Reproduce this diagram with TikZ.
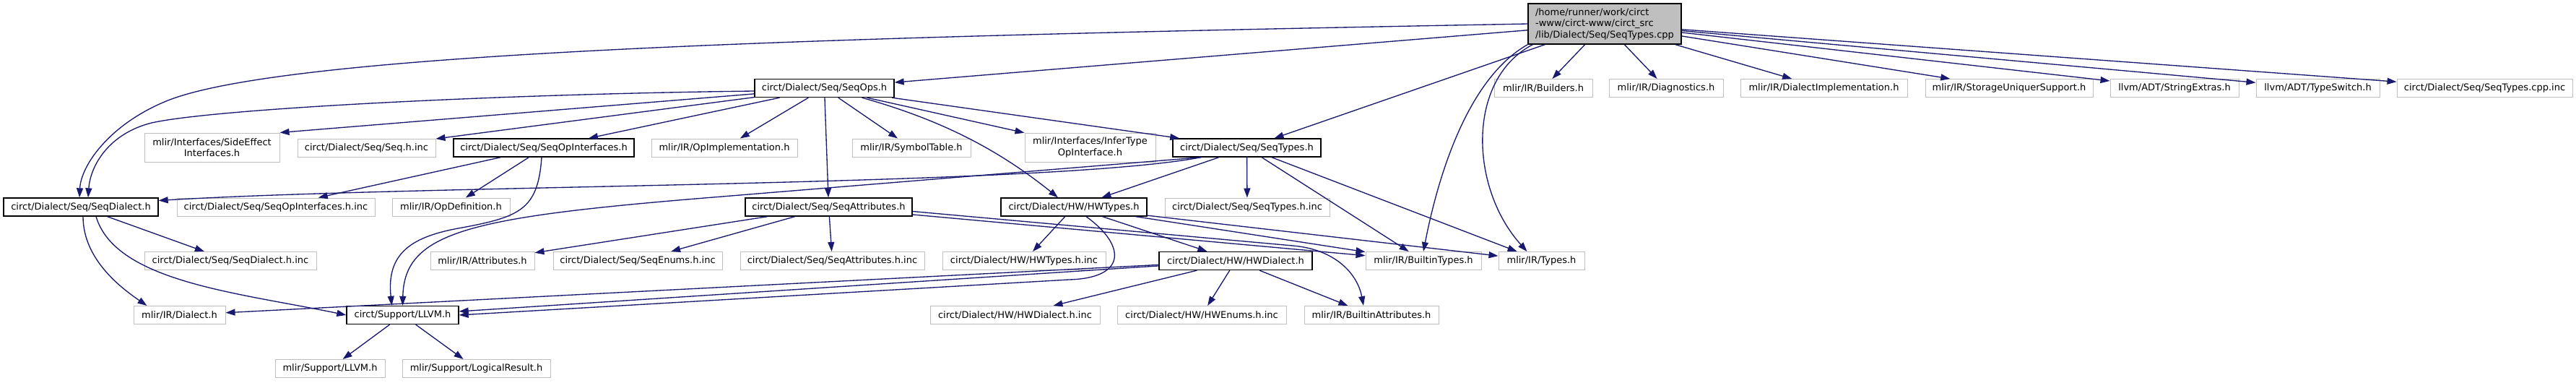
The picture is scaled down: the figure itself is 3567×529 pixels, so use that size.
\documentclass[tikz,border=0pt]{standalone}
\usepackage{fontspec}
\setmainfont{DejaVu Sans}
\usepackage{xcolor}
\usepackage{tikz}
\usetikzlibrary{arrows.meta, calc}

\definecolor{edgeblue}{HTML}{191970}
\definecolor{boxgray}{HTML}{BFBFBF}

\begin{document}
\begin{tikzpicture}[
    x=0.75pt, y=-0.75pt,
    font=\fontsize{9.75}{11.6}\selectfont,
    hdr/.style={
      draw=boxgray,
      line width=0.75pt,
      fill=white,
      align=center,
      inner sep=0pt,
      minimum height=18.75pt
    },
    doc/.style={
      hdr,
      draw=black,
      line width=1pt
    },
    cur/.style={
      draw=black,
      line width=1pt,
      fill=boxgray,
      align=left,
      inner sep=0pt,
      minimum height=42pt
    },
    tall/.style={minimum height=30pt},
    boxw/.style={minimum width=#1*0.75pt},
    arrow/.style={
      -{Triangle[length=9.75pt, width=6.75pt]},
      line width=1pt,
      draw=edgeblue
    }
  ]

    \path[use as bounding box, fill=white] (0,0) rectangle (3567,529);

    % The file itself
    \node[cur, boxw=212] (cpp) at (2222,33) {/home/runner/work/circt\\-www/circt-www/circt\_src\\/lib/Dialect/Seq/SeqTypes.cpp};

    % First level of includes
    \node[doc, boxw=193] (ops) at (1141.5,122) {circt/Dialect/Seq/SeqOps.h};
    \node[hdr, boxw=136] (builders) at (2137,122) {mlir/IR/Builders.h};
    \node[hdr, boxw=158] (diag) at (2307,122) {mlir/IR/Diagnostics.h};
    \node[hdr, boxw=231] (dimpl) at (2525.5,122) {mlir/IR/DialectImplementation.h};
    \node[hdr, boxw=232] (storage) at (2782,122) {mlir/IR/StorageUniquerSupport.h};
    \node[hdr, boxw=178] (strext) at (3011,122) {llvm/ADT/StringExtras.h};
    \node[hdr, boxw=171] (tswitch) at (3209.5,122) {llvm/ADT/TypeSwitch.h};
    \node[hdr, boxw=243] (cppinc) at (3440.5,122) {circt/Dialect/Seq/SeqTypes.cpp.inc};

    % Second level
    \node[hdr, tall, boxw=187] (sideeff) at (293.5,204) {mlir/Interfaces/SideEffect\\Interfaces.h};
    \node[hdr, boxw=191] (seqinc) at (507.5,204.5) {circt/Dialect/Seq/Seq.h.inc};
    \node[doc, boxw=250] (opiface) at (753,204.5) {circt/Dialect/Seq/SeqOpInterfaces.h};
    \node[hdr, boxw=202] (opimpl) at (1003,204.5) {mlir/IR/OpImplementation.h};
    \node[hdr, boxw=164] (symtab) at (1262,204.5) {mlir/IR/SymbolTable.h};
    \node[hdr, tall, boxw=181] (infer) at (1509.5,204) {mlir/Interfaces/InferType\\OpInterface.h};
    \node[doc, boxw=205] (seqtypes) at (1726.5,204.5) {circt/Dialect/Seq/SeqTypes.h};

    % Third level
    \node[doc, boxw=214] (seqdialect) at (112,286.5) {circt/Dialect/Seq/SeqDialect.h};
    \node[hdr, boxw=274] (opifaceinc) at (382,286.5) {circt/Dialect/Seq/SeqOpInterfaces.h.inc};
    \node[hdr, boxw=163] (opdef) at (624.5,286.5) {mlir/IR/OpDefinition.h};
    \node[doc, boxw=231] (seqattr) at (1147.5,286.5) {circt/Dialect/Seq/SeqAttributes.h};
    \node[doc, boxw=202] (hwtypes) at (1487,286.5) {circt/Dialect/HW/HWTypes.h};
    \node[hdr, boxw=228] (seqtypesinc) at (1727,286.5) {circt/Dialect/Seq/SeqTypes.h.inc};

    % Fourth level
    \node[hdr, boxw=238] (seqdialectinc) at (319,361) {circt/Dialect/Seq/SeqDialect.h.inc};
    \node[hdr, boxw=144] (attrs) at (668,361) {mlir/IR/Attributes.h};
    \node[hdr, boxw=234] (seqenums) at (883,361) {circt/Dialect/Seq/SeqEnums.h.inc};
    \node[hdr, boxw=255] (seqattrinc) at (1152.5,361) {circt/Dialect/Seq/SeqAttributes.h.inc};
    \node[hdr, boxw=226] (hwtypesinc) at (1418,361) {circt/Dialect/HW/HWTypes.h.inc};
    \node[doc, boxw=212] (hwdialect) at (1711,361) {circt/Dialect/HW/HWDialect.h};
    \node[hdr, boxw=160] (builtintypes) at (1971,361) {mlir/IR/BuiltinTypes.h};
    \node[hdr, boxw=119] (types) at (2134.5,361) {mlir/IR/Types.h};

    % Fifth level
    \node[hdr, boxw=127] (dialect) at (248.5,436) {mlir/IR/Dialect.h};
    \node[doc, boxw=155] (llvm) at (557.5,436) {circt/Support/LLVM.h};
    \node[hdr, boxw=235] (hwdialectinc) at (1405.5,436) {circt/Dialect/HW/HWDialect.h.inc};
    \node[hdr, boxw=234] (hwenums) at (1664,436) {circt/Dialect/HW/HWEnums.h.inc};
    \node[hdr, boxw=186] (builtinattrs) at (1899,436) {mlir/IR/BuiltinAttributes.h};

    % Sixth level
    \node[hdr, boxw=152] (mlirllvm) at (457,510) {mlir/Support/LLVM.h};
    \node[hdr, boxw=205] (logres) at (659.5,510) {mlir/Support/LogicalResult.h};

    % Includes of the source file
    \draw[arrow] (cpp.west) .. controls (1200,50) and (400,70) .. (230,140)
      .. controls (150,173) and (112,230) .. ($(seqdialect.north)+(-2,0)$);
    \draw[arrow] (cpp) -- (ops);
    \draw[arrow] (cpp) -- (seqtypes);
    \draw[arrow] (cpp.south west) .. controls (2030,110) and (1990,250) .. (builtintypes.north);
    \draw[arrow] ($(cpp.south west)+(7,0)$) .. controls (2030,110) and (2035,260) .. ($(types.north)+(-20,0)$);
    \draw[arrow] (cpp) -- (builders);
    \draw[arrow] (cpp) -- (diag);
    \draw[arrow] (cpp) -- (dimpl);
    \draw[arrow] (cpp) -- (storage);
    \draw[arrow] (cpp) -- (strext);
    \draw[arrow] (cpp) -- (tswitch);
    \draw[arrow] (cpp) -- (cppinc);

    % SeqOps.h
    \draw[arrow] ($(ops.west)+(0,4)$) .. controls (700,130) and (300,150) .. (210,170)
      .. controls (150,185) and (125,230) .. ($(seqdialect.north)+(10,0)$);
    \draw[arrow] (ops) -- (sideeff.north east);
    \draw[arrow] (ops) -- (seqinc);
    \draw[arrow] (ops) -- (opiface);
    \draw[arrow] (ops) -- (opimpl);
    \draw[arrow] (ops) -- (seqattr);
    \draw[arrow] (ops) -- (symtab);
    \draw[arrow] ($(ops.south)+(52,0)$) .. controls (1300,165) and (1380,205) .. ($(hwtypes.north)+(-22,0)$);
    \draw[arrow] (ops) -- (infer);
    \draw[arrow] (ops) -- (seqtypes);

    % SeqOpInterfaces.h
    \draw[arrow] (opiface) -- (opifaceinc);
    \draw[arrow] (opiface) -- (opdef);
    \draw[arrow] ($(opiface.south)+(-3,0)$) .. controls (745,290) and (720,300) .. (640,315)
      .. controls (570,327) and (535,350) .. ($(llvm.north)+(-15,0)$);

    % SeqTypes.h
    \draw[arrow] ($(seqtypes.south west)+(40,0)$) .. controls (1450,258) and (600,255) .. ($(seqdialect.east)+(0,-9)$);
    \draw[arrow] ($(seqtypes.south west)+(40,0)$) -- (1000,272)
      .. controls (650,300) and (560,320) .. (llvm.north);
    \draw[arrow] (seqtypes) -- (hwtypes);
    \draw[arrow] (seqtypes) -- (seqtypesinc);
    \draw[arrow] (seqtypes) -- (builtintypes);
    \draw[arrow] (seqtypes) -- (types);

    % SeqAttributes.h
    \draw[arrow] (seqattr) -- (attrs);
    \draw[arrow] (seqattr) -- (seqenums);
    \draw[arrow] (seqattr) -- (seqattrinc);
    \draw[arrow] (seqattr) -- (builtintypes);
    \draw[arrow] ($(seqattr.east)+(0,6)$) -- (1790,340)
      .. controls (1850,345) and (1880,380) .. ($(builtinattrs.north)+(-11,0)$);

    % HWTypes.h
    \draw[arrow] (hwtypes) -- (hwtypesinc);
    \draw[arrow] ($(hwtypes.south)+(17,0)$) .. controls (1560,340) and (1560,385) .. (1480,387) -- (llvm.east);
    \draw[arrow] (hwtypes) -- (hwdialect);
    \draw[arrow] (hwtypes) -- (builtintypes);
    \draw[arrow] (hwtypes) -- (types);

    % HWDialect.h
    \draw[arrow] (hwdialect) -- (dialect);
    \draw[arrow] (hwdialect) -- (llvm);
    \draw[arrow] (hwdialect) -- (hwdialectinc);
    \draw[arrow] (hwdialect) -- (hwenums);
    \draw[arrow] (hwdialect) -- (builtinattrs);

    % SeqDialect.h
    \draw[arrow] ($(seqdialect.south)+(3,0)$) .. controls (115,360) and (170,400) .. ($(dialect.north)+(-45,0)$);
    \draw[arrow] ($(seqdialect.south)+(21,0)$) .. controls (160,390) and (330,405) .. (llvm.west);
    \draw[arrow] (seqdialect) -- (seqdialectinc);

    % LLVM.h
    \draw[arrow] (llvm) -- (mlirllvm);
    \draw[arrow] (llvm) -- (logres);

  \end{tikzpicture}
\end{document}
